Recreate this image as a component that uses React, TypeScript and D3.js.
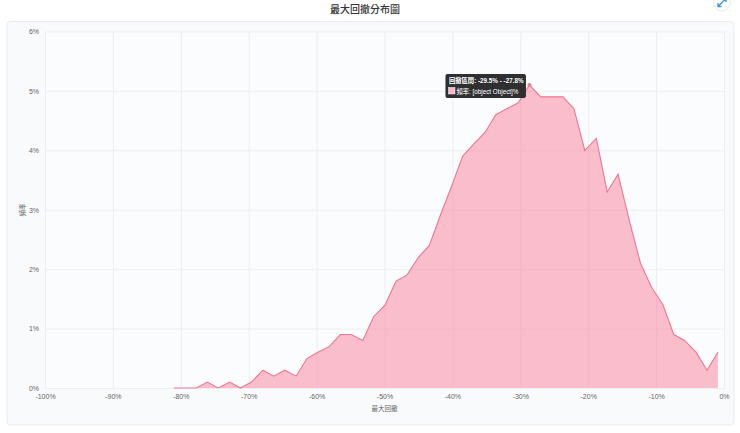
import React, { useEffect, useRef } from "react";
import { select, scaleLinear, area, line, axisBottom, axisLeft } from "d3";

const binCenters = [
  -81, -79.4, -77.7, -76.1, -74.5, -72.8, -71.2, -69.6, -67.9, -66.3,
  -64.7, -63, -61.4, -59.8, -58.1, -56.5, -54.9, -53.2, -51.6, -49.9,
  -48.3, -46.7, -45, -43.4, -41.8, -40.1, -38.5, -36.9, -35.2, -33.6,
  -32, -30.3, -28.65, -27, -25.4, -23.7, -22.1, -20.5, -18.8, -17.2,
  -15.6, -13.9, -12.3, -10.7, -9, -7.4, -5.8, -4.1, -2.5, -0.9,
];
const frequency = [
  0, 0, 0, 0.1, 0, 0.1, 0, 0.1, 0.3, 0.2,
  0.3, 0.2, 0.5, 0.6, 0.7, 0.9, 0.9, 0.8, 1.2, 1.4,
  1.8, 1.9, 2.2, 2.4, 2.9, 3.4, 3.9, 4.1, 4.3, 4.6,
  4.7, 4.8, 5.1, 4.9, 4.9, 4.9, 4.7, 4, 4.2, 3.3,
  3.6, 2.8, 2.1, 1.7, 1.4, 0.9, 0.8, 0.6, 0.3, 0.6,
];
const xTicks = [-100, -90, -80, -70, -60, -50, -40, -30, -20, -10, 0];
const yTicks = [0, 1, 2, 3, 4, 5, 6];

const font = "'Noto Sans CJK TC', 'Liberation Sans', sans-serif";
const latin = "'Liberation Sans', 'Noto Sans CJK TC', sans-serif";
const width = 740;
const height = 433;

function App() {
  const svgRef = useRef<SVGSVGElement>(null);

  useEffect(() => {
    const svg = select(svgRef.current);
    svg.selectAll("*").remove();

    const x = scaleLinear().domain([-100, 0]).range([45, 724]);
    const y = scaleLinear().domain([0, 6]).range([388, 31.5]);
    const points = binCenters.map((c, i) => ({ x: c, y: frequency[i] }));

    // card behind the plot
    svg.append("rect")
      .attr("x", 7).attr("y", 21.5)
      .attr("width", 727).attr("height", 403.5)
      .attr("rx", 4)
      .attr("fill", "#f9fafb")
      .attr("stroke", "#e9ebee");
    svg.append("rect")
      .attr("x", 45).attr("y", 31.5)
      .attr("width", 679).attr("height", 356.5)
      .attr("fill", "#fbfcfd");

    svg.append("text")
      .attr("x", 365).attr("y", 12.5)
      .attr("text-anchor", "middle")
      .attr("font-family", font)
      .attr("font-size", 10)
      .attr("font-weight", 500)
      .attr("fill", "#333")
      .text("最大回撤分布圖");

    // expand button, top right
    const btn = svg.append("g").attr("transform", "translate(722,2.5)");
    btn.append("circle").attr("r", 8.5).attr("fill", "#fff").attr("stroke", "#e6e9ec");
    btn.append("path")
      .attr("d", "M-3.5,3.5 L3.5,-3.5 M0.5,-4 L4,-4 L4,-0.5 M-4,0.5 L-4,4 L-0.5,4")
      .attr("fill", "none")
      .attr("stroke", "#3d8fd6")
      .attr("stroke-width", 1.3);

    // grid and tick labels
    const gx = svg.append("g")
      .attr("transform", "translate(0,388)")
      .call(axisBottom(x).tickValues(xTicks).tickSize(-356.5).tickPadding(6).tickFormat((d: any) => `${d}%`));
    const gy = svg.append("g")
      .attr("transform", "translate(45,0)")
      .call(axisLeft(y).tickValues(yTicks).tickSize(-679).tickPadding(6).tickFormat((d: any) => `${d}%`));
    [gx, gy].forEach((g) => {
      g.select(".domain").remove();
      g.selectAll("line").attr("stroke", "#eceef1").attr("stroke-width", 1);
      g.selectAll("text")
        .attr("font-family", latin)
        .attr("font-size", 7)
        .attr("fill", "#666");
    });

    const areaPath = area<any>().x((d) => x(d.x)).y0(y(0)).y1((d) => y(d.y));
    const linePath = line<any>().x((d) => x(d.x)).y((d) => y(d.y));

    svg.append("path")
      .datum(points)
      .attr("d", areaPath)
      .attr("fill", "rgba(250,125,155,0.5)");
    svg.append("path")
      .datum(points)
      .attr("d", linePath)
      .attr("fill", "none")
      .attr("stroke", "#f0768f")
      .attr("stroke-width", 1.1);

    svg.append("text")
      .attr("x", 384.5).attr("y", 411)
      .attr("text-anchor", "middle")
      .attr("font-family", font)
      .attr("font-size", 6.5)
      .attr("fill", "#666")
      .text("最大回撤");
    svg.append("text")
      .attr("transform", "translate(25,210) rotate(-90)")
      .attr("text-anchor", "middle")
      .attr("font-family", font)
      .attr("font-size", 6.5)
      .attr("fill", "#666")
      .text("頻率");

    // hover point and tooltip at the peak bin
    const peak = frequency.indexOf(Math.max(...frequency));
    const px = x(binCenters[peak]);
    const py = y(frequency[peak]);
    svg.append("circle")
      .attr("cx", px).attr("cy", py).attr("r", 2)
      .attr("fill", "#f0768f");

    const tip = svg.append("g").attr("transform", `translate(${px - 84},${py - 11})`);
    tip.append("rect")
      .attr("width", 80.5).attr("height", 24)
      .attr("rx", 2)
      .attr("fill", "#2f2f31");
    tip.append("text")
      .attr("x", 3.5).attr("y", 8.8)
      .attr("font-family", latin)
      .attr("font-size", 6.3)
      .attr("font-weight", 700)
      .attr("fill", "#fff")
      .text("回撤區間: -29.5% - -27.8%");
    tip.append("rect")
      .attr("x", 3).attr("y", 13.5)
      .attr("width", 6.5).attr("height", 6.5)
      .attr("fill", "#fdb6c8")
      .attr("stroke", "#fff")
      .attr("stroke-width", 0.5);
    tip.append("text")
      .attr("x", 11).attr("y", 19.6)
      .attr("font-family", latin)
      .attr("font-size", 6.3)
      .attr("fill", "#fff")
      .text("頻率: [object Object]%");
  }, []);

  return (
    <svg
      ref={svgRef}
      width={width}
      height={height}
      style={{ position: "absolute", top: 0, left: 0, background: "#fff" }}
    ></svg>
  );
}

export default App;
